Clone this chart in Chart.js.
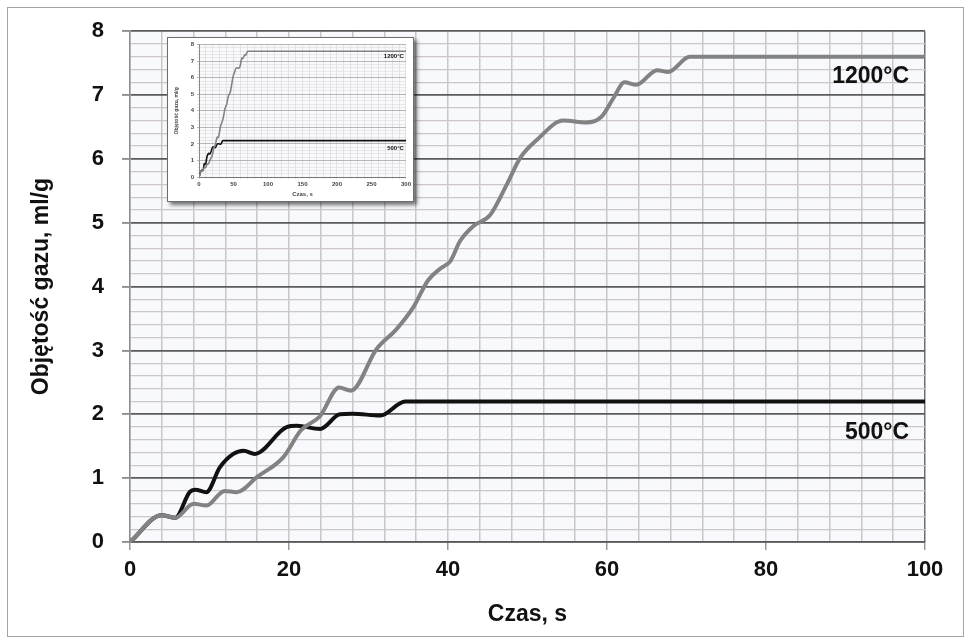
<!DOCTYPE html>
<html>
<head>
<meta charset="utf-8">
<script src="https://cdn.jsdelivr.net/npm/chart.js@4"></script>
<style>
html, body { margin: 0; padding: 0; background: #fff; }
#wrap { position: relative; width: 971px; height: 644px; }
#inset {
    position: absolute; left: 167px; top: 37px; width: 245px; height: 163px;
    border: 1px solid #6e6e6e; background: #fff;
    box-shadow: 3px 3px 4px rgba(0,0,0,0.55);
}
</style>
</head>
<body>
<div id="wrap">
    <canvas id="mainChart" width="971" height="644"></canvas>
    <div id="inset"><canvas id="insetChart" width="245" height="163"></canvas></div>
</div>
<script>
// Dane
const seriesNames = ['1200°C', '500°C'];
const hotTime = [0, 4, 5.7, 8, 9.6, 11.9, 13.4, 16, 19.3, 21.5, 23.9, 26.3, 27.8, 31, 33.5, 35.6, 37.5, 39, 40.3, 41.5, 43.2, 45.3, 47.4, 49.1, 51.2, 54.5, 57.4, 59.3, 60.8, 62.2, 63.7, 66.3, 67.7, 70.4, 100, 300];
const hotVolume = [0, 0.42, 0.38, 0.6, 0.57, 0.8, 0.78, 1.02, 1.33, 1.75, 1.97, 2.42, 2.37, 3.02, 3.33, 3.67, 4.1, 4.28, 4.4, 4.71, 4.95, 5.12, 5.6, 6.02, 6.3, 6.6, 6.57, 6.66, 6.95, 7.2, 7.16, 7.39, 7.36, 7.6, 7.6, 7.6];
const coldTime = [0, 4, 5.7, 7.5, 8.2, 9.6, 11.3, 13, 14.3, 15.7, 19.7, 21, 23.9, 26.4, 28, 31.5, 34.6, 100, 300];
const coldVolume = [0, 0.42, 0.38, 0.78, 0.82, 0.78, 1.17, 1.38, 1.43, 1.38, 1.8, 1.82, 1.77, 2.0, 2.01, 1.98, 2.2, 2.2, 2.2];
const yTicks = [0, 1, 2, 3, 4, 5, 6, 7, 8];
const xTicksMain = [0, 20, 40, 60, 80, 100];
const xTicksInset = [0, 50, 100, 150, 200, 250, 300];

const toPoints = (xs, ys) => xs.map((x, i) => ({ x: x, y: ys[i] }));
const isTick = (list, v) => list.some(t => Math.abs(t - v) < 1e-6);

const FONT = "'Liberation Sans', Arial, sans-serif";
const MINOR = '#ccc6c6';
const MAJOR = '#5a5a5a';

function makeDatasets(width) {
    return [{
        label: seriesNames[0],
        data: toPoints(hotTime, hotVolume),
        borderColor: '#828282',
        borderWidth: width,
        pointRadius: 0,
        cubicInterpolationMode: 'monotone',
        fill: false
    }, {
        label: seriesNames[1],
        data: toPoints(coldTime, coldVolume),
        borderColor: '#111111',
        borderWidth: width,
        pointRadius: 0,
        cubicInterpolationMode: 'monotone',
        fill: false
    }];
}

// tlo, ramka i podpisy serii
function framePlugin(frame) {
    return {
        id: 'frame',
        beforeDraw(chart) {
            const c = chart.ctx, a = chart.chartArea;
            c.save();
            c.fillStyle = '#ffffff';
            c.fillRect(0, 0, chart.width, chart.height);
            if (frame) {
                c.strokeStyle = '#a5a5a5';
                c.lineWidth = 1;
                c.strokeRect(7.5, 7.5, 956, 629);
            }
            c.fillStyle = '#f7f9fc';
            c.fillRect(a.left, a.top, a.right - a.left, a.bottom - a.top);
            c.restore();
        }
    };
}

function labelPlugin(size, xVal, yVals) {
    return {
        id: 'seriesLabels',
        afterDatasetsDraw(chart) {
            const c = chart.ctx;
            const xs = chart.scales.x, ys = chart.scales.y;
            c.save();
            c.font = 'bold ' + size + 'px ' + FONT;
            c.fillStyle = '#111';
            c.textAlign = 'right';
            c.textBaseline = 'middle';
            seriesNames.forEach((n, i) => {
                c.fillText(n, xs.getPixelForValue(xVal), ys.getPixelForValue(yVals[i]));
            });
            c.restore();
        }
    };
}

// Wykres glowny
new Chart(document.getElementById('mainChart').getContext('2d'), {
    type: 'line',
    data: { datasets: makeDatasets(4) },
    options: {
        responsive: false,
        animation: false,
        layout: { padding: { left: 0, top: 30, right: 46, bottom: 0 } },
        plugins: { legend: { display: false }, tooltip: { enabled: false } },
        scales: {
            x: {
                type: 'linear', min: 0, max: 100,
                afterFit: s => { s.height = 102; },
                ticks: {
                    stepSize: 4, autoSkip: false, maxRotation: 0, maxTicksLimit: 100,
                    padding: 7, color: '#111',
                    font: { family: FONT, size: 22, weight: 'bold' },
                    callback: v => isTick(xTicksMain, v) ? v : ''
                },
                grid: {
                    color: ctx => ctx.tick && ctx.tick.value === 100 ? '#6e6e6e' : MINOR,
                    lineWidth: 1.5,
                    tickLength: 8,
                    tickColor: ctx => ctx.tick && isTick(xTicksMain, ctx.tick.value) ? '#9a9a9a' : 'rgba(0,0,0,0)'
                },
                border: { color: MAJOR, width: 1.5 },
                title: {
                    display: true, text: 'Czas, s', color: '#111',
                    font: { family: FONT, size: 23, weight: 'bold' },
                    padding: { top: 0, bottom: 16 }
                }
            },
            y: {
                type: 'linear', min: 0, max: 8,
                afterFit: s => { s.width = 130; },
                ticks: {
                    stepSize: 0.2, autoSkip: false, maxTicksLimit: 100,
                    padding: 18, color: '#111',
                    font: { family: FONT, size: 22, weight: 'bold' },
                    callback: v => isTick(yTicks, v) ? Math.round(v) : ''
                },
                grid: {
                    color: ctx => ctx.tick && isTick(yTicks, ctx.tick.value) ? MAJOR : MINOR,
                    lineWidth: ctx => ctx.tick && isTick(yTicks, ctx.tick.value) ? 1.8 : 1.3,
                    tickLength: 8,
                    tickColor: ctx => ctx.tick && isTick(yTicks, ctx.tick.value) ? '#8a8a8a' : 'rgba(0,0,0,0)'
                },
                border: { color: '#8c8c8c', width: 1.5 },
                title: {
                    display: true, text: 'Objętość gazu, ml/g', color: '#111',
                    font: { family: FONT, size: 23, weight: 'bold' },
                    padding: { top: 28, bottom: 0 }
                }
            }
        }
    },
    plugins: [framePlugin(true), labelPlugin(23, 98, [7.29, 1.71])]
});

// Wykres wstawiony (caly zakres czasu)
new Chart(document.getElementById('insetChart').getContext('2d'), {
    type: 'line',
    data: { datasets: makeDatasets(1.6) },
    options: {
        responsive: false,
        animation: false,
        layout: { padding: { left: 0, top: 4, right: 4, bottom: 0 } },
        plugins: { legend: { display: false }, tooltip: { enabled: false } },
        scales: {
            x: {
                type: 'linear', min: 0, max: 300,
                afterFit: s => { s.height = 24; },
                ticks: {
                    stepSize: 10, autoSkip: false, maxRotation: 0, maxTicksLimit: 100,
                    padding: 2, color: '#444',
                    font: { family: FONT, size: 6, weight: 'bold' },
                    callback: v => isTick(xTicksInset, v) ? v : ''
                },
                grid: { color: '#d8d2d2', lineWidth: 0.6, tickLength: 2 },
                border: { color: '#777', width: 1 },
                title: {
                    display: true, text: 'Czas, s', color: '#444',
                    font: { family: FONT, size: 6, weight: 'bold' },
                    padding: { top: 0, bottom: 3 }
                }
            },
            y: {
                type: 'linear', min: 0, max: 8,
                afterFit: s => { s.width = 31; },
                ticks: {
                    stepSize: 0.2, autoSkip: false, maxTicksLimit: 100,
                    padding: 3, color: '#444',
                    font: { family: FONT, size: 6, weight: 'bold' },
                    callback: v => isTick(yTicks, v) ? Math.round(v) : ''
                },
                grid: {
                    color: ctx => ctx.tick && isTick(yTicks, ctx.tick.value) ? '#8a8a8a' : '#e0dada',
                    lineWidth: 0.6, tickLength: 2
                },
                border: { color: '#888', width: 1 },
                title: {
                    display: true, text: 'Objętość gazu, ml/g', color: '#444',
                    font: { family: FONT, size: 5, weight: 'bold' },
                    padding: { top: 6, bottom: 0 }
                }
            }
        }
    },
    plugins: [framePlugin(false), labelPlugin(6, 297, [7.3, 1.76])]
});
</script>
</body>
</html>
